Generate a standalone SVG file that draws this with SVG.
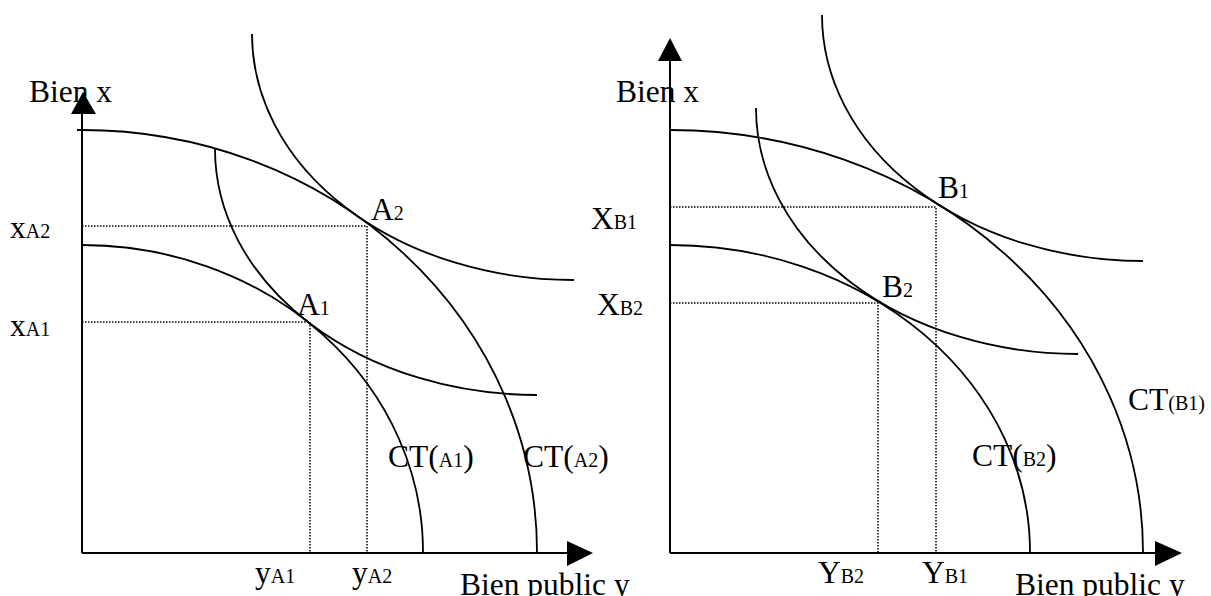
<svg xmlns="http://www.w3.org/2000/svg" width="1211" height="596" viewBox="0 0 1211 596">
<style>
text{font-family:"Liberation Serif","Times New Roman",serif;font-size:31.5px;fill:#000}
.s{font-size:20px}
.ax{stroke:#000;stroke-width:2;fill:none}
.cv{stroke:#000;stroke-width:1.8;fill:none}
.dt{stroke:#000;stroke-width:1.5;stroke-dasharray:1.5 1.5;fill:none}
.ah{fill:#000;stroke:none}
</style>
<rect width="1211" height="596" fill="#fff"/>
<g id="left-panel">
  <g id="left-axes">
    <line class="ax" x1="82" y1="553" x2="82" y2="112"/>
    <polygon class="ah" points="83,92 71,114 96,114"/>
    <line class="ax" x1="82" y1="553" x2="569" y2="553"/>
    <polygon class="ah" points="593,553 567,541 567,566"/>
    <text x="29" y="102">Bien x</text>
    <text x="460" y="595">Bien public y</text>
  </g>
  <g id="left-curves">
    <path id="CT-A2" class="cv" d="M77,130 L82,130 A455,422 0 0 1 537,552"/>
    <path id="CT-A1" class="cv" d="M82,245 A341,307 0 0 1 423,552"/>
    <path id="IC-A2" class="cv" d="M252,34 A322,246 0 0 0 574,280"/>
    <path id="IC-A1" class="cv" d="M215,149 A322,246 0 0 0 537,395"/>
  </g>
  <g id="left-guides">
    <polyline class="dt" points="82,226 367,226 367,552"/>
    <polyline class="dt" points="82,322 310,322 310,552"/>
  </g>
  <g id="left-labels">
    <text x="10" y="238">x<tspan class="s">A2</tspan></text>
    <text x="10" y="336">x<tspan class="s">A1</tspan></text>
    <text x="371" y="220">A<tspan class="s">2</tspan></text>
    <text x="297" y="315">A<tspan class="s">1</tspan></text>
    <text x="255" y="583">y<tspan class="s">A1</tspan></text>
    <text x="352" y="583">y<tspan class="s">A2</tspan></text>
    <text x="388" y="467">CT(<tspan class="s">A1</tspan>)</text>
    <text x="523" y="467">CT(<tspan class="s">A2</tspan>)</text>
  </g>
</g>
<g id="right-panel">
  <g id="right-axes">
    <line class="ax" x1="670" y1="553" x2="670" y2="59"/>
    <polygon class="ah" points="670,38 658,61 682,61"/>
    <line class="ax" x1="670" y1="553" x2="1157" y2="553"/>
    <polygon class="ah" points="1182,553 1155,541 1155,566"/>
    <text x="616" y="102">Bien x</text>
    <text x="1015" y="595">Bien public y</text>
  </g>
  <g id="right-curves">
    <path id="CT-B1" class="cv" d="M670,130 A473,422 0 0 1 1143,552"/>
    <path id="CT-B2" class="cv" d="M670,245 A360,307 0 0 1 1030,552"/>
    <path id="IC-B1" class="cv" d="M822,15 A321,246 0 0 0 1143,261"/>
    <path id="IC-B2" class="cv" d="M756,108 A322,246 0 0 0 1078,354"/>
  </g>
  <g id="right-guides">
    <polyline class="dt" points="670,207 936,207 936,552"/>
    <polyline class="dt" points="670,303 878,303 878,552"/>
  </g>
  <g id="right-labels">
    <text x="591" y="229">X<tspan class="s">B1</tspan></text>
    <text x="597" y="315">X<tspan class="s">B2</tspan></text>
    <text x="938" y="198">B<tspan class="s">1</tspan></text>
    <text x="882" y="297">B<tspan class="s">2</tspan></text>
    <text x="818" y="583">Y<tspan class="s">B2</tspan></text>
    <text x="922" y="583">Y<tspan class="s">B1</tspan></text>
    <text x="972" y="466">CT(<tspan class="s">B2</tspan>)</text>
    <text x="1128" y="410">CT<tspan class="s">(B1)</tspan></text>
  </g>
</g>
</svg>
